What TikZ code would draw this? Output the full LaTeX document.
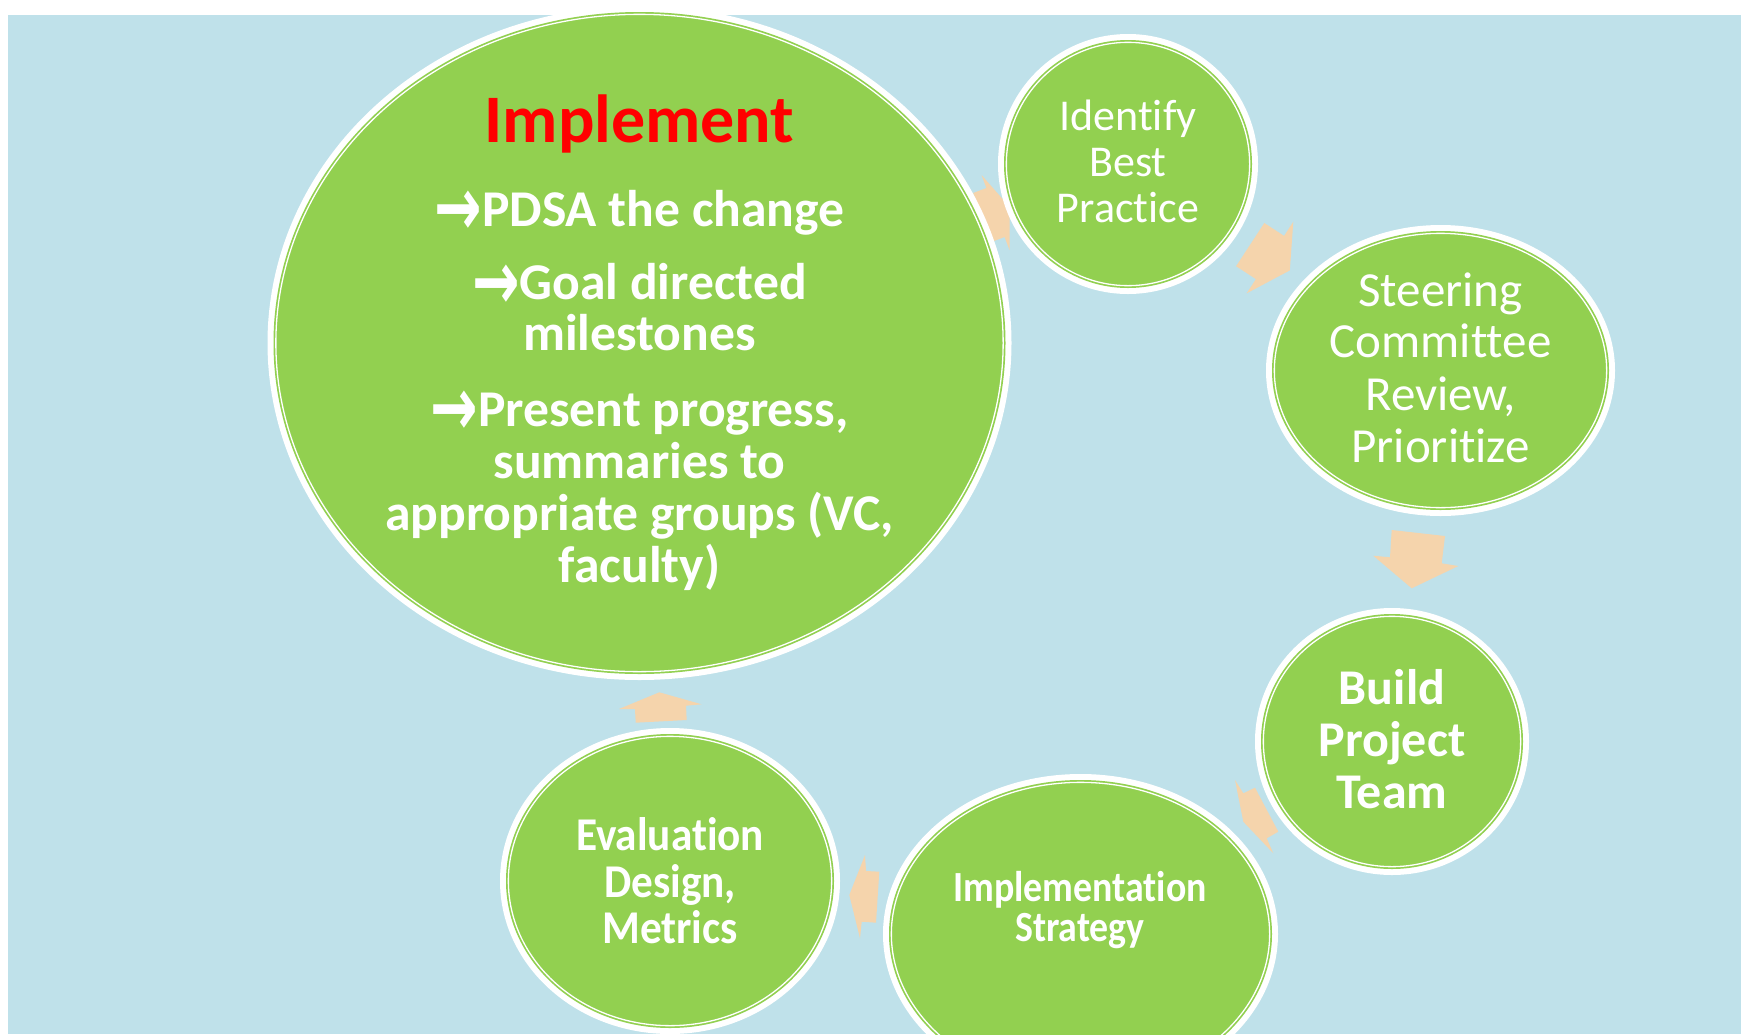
\documentclass[tikz,border=0pt]{standalone}
\usepackage{graphicx}
\usepackage{fontspec}
\setmainfont{Carlito}[RawFeature={-liga}]
\newfontfamily\arrowfont{DejaVu Sans}
\newfontfamily\condA{Carlito}[FakeStretch=0.88,RawFeature={-liga}]
\newfontfamily\condB{Carlito}[FakeStretch=0.92,RawFeature={-liga}]
\usetikzlibrary{shapes.geometric}
\definecolor{bgblue}{HTML}{BFE1EA}
\definecolor{cgreen}{HTML}{92D050}
\definecolor{arrowtan}{HTML}{F5D4AC}
\definecolor{titlered}{HTML}{FF0000}
\newcommand{\bularrow}{\raisebox{-4.6pt}{\scalebox{1.1}[1.6]{\arrowfont\bfseries →}}}
\tikzset{
  ring/.style={ellipse, inner sep=0pt, outer sep=0pt, fill=cgreen, draw=cgreen, line width=2.35pt,
     preaction={draw=white, line width=8.35pt},
     postaction={draw=white, line width=0.65pt}},
  blockarrow/.style={fill=arrowtan, draw=none},
  txt/.style={anchor=base, inner sep=0pt, outer sep=0pt, text=white},
  bullettxt/.style={txt, font=\bfseries\fontsize{25.8pt}{25.8pt}\selectfont},
  identtxt/.style={txt, font=\fontsize{22pt}{22pt}\selectfont},
  steertxt/.style={txt, font=\fontsize{24.5pt}{24.5pt}\selectfont},
  buildtxt/.style={txt, font=\bfseries\fontsize{25pt}{25pt}\selectfont},
  strattxt/.style={txt, font=\condA\bfseries\fontsize{21.5pt}{21.5pt}\selectfont},
  evaltxt/.style={txt, font=\condB\bfseries\fontsize{23.5pt}{23.5pt}\selectfont},
}
\begin{document}
\begin{tikzpicture}[x=0.5pt,y=-0.5pt]
\useasboundingbox (0,0) rectangle (1741,1034);
\fill[bgblue] (8,15) rectangle (1741,1034);

% block arrows (drawn beneath the circles)
\fill[blockarrow] (973.2,193) -- (986.4,188) -- (981.5,175) -- (1009.6,207) -- (1009.5,250) -- (1004.6,237) -- (991.4,242) -- cycle;
\fill[blockarrow] (1264.3,223.0) -- (1284.1,235.9) -- (1293.3,221.7) -- (1289.8,270.4) -- (1246.7,293.3) -- (1255.9,279.1) -- (1236.1,266.2) -- cycle;
\fill[blockarrow] (1391.7,530) -- (1445,536) -- (1441.7,563.3) -- (1458.3,566) -- (1411.7,588.3) -- (1373.3,555.7) -- (1390,557.3) -- cycle;
\fill[blockarrow] (1255,787.7) -- (1278.3,831.7) -- (1266.7,838.3) -- (1273.3,853.3) -- (1243.3,821.7) -- (1235,780) -- (1243.3,793.3) -- cycle;
\fill[blockarrow] (879.3,871.7) -- (876,922.7) -- (861.7,921.7) -- (860,938.3) -- (849.3,895) -- (865,855) -- (866,871) -- cycle;
\fill[blockarrow] (686.7,720) -- (635.7,722.7) -- (635,709) -- (619,709) -- (659.3,692.3) -- (701.7,704.3) -- (686,705.7) -- cycle;

% circles
\node[ring, minimum width=363.65pt, minimum height=328.65pt] (impl) at (639.5,343) {};
\node[ring, minimum width=121.65pt, minimum height=121.65pt] (ident) at (1128,164) {};
\node[ring, minimum width=166.15pt, minimum height=137.15pt] (steer) at (1440.5,370.5) {};
\node[ring, minimum width=128.65pt, minimum height=125.15pt] (build) at (1392,741.5) {};
\node[ring, minimum width=189.15pt, minimum height=151.65pt] (strat) at (1080.5,934) {};
\node[ring, minimum width=161.65pt, minimum height=144.65pt] (eval) at (670,881) {};

% texts
\node[txt, text=titlered, font=\bfseries\fontsize{34pt}{34pt}\selectfont] (title) at (639.5,142) {Implement};
\node[bullettxt] (b1) at (639.5,226.5) {\bularrow PDSA the change};
\node[bullettxt] (b2) at (639.5,299.8) {\bularrow Goal directed};
\node[bullettxt] (b2b) at (639.5,350.9) {milestones};
\node[bullettxt] (b3) at (639.5,426.4) {\bularrow Present progress,};
\node[bullettxt] (b3b) at (639.5,478.5) {summaries to};
\node[bullettxt] (b3c) at (639.5,530.7) {appropriate groups (VC,};
\node[bullettxt] (b3d) at (639.5,582.9) {faculty)};

\node[identtxt] (i1) at (1128,130) {Identify};
\node[identtxt] (i2) at (1128,176.5) {Best};
\node[identtxt] (i3) at (1128,222.5) {Practice};

\node[steertxt] (s1) at (1440.5,306) {Steering};
\node[steertxt] (s2) at (1440.5,357.5) {Committee};
\node[steertxt] (s3) at (1440.5,410.5) {Review,};
\node[steertxt] (s4) at (1440.5,462.5) {Prioritize};

\node[buildtxt] (p1) at (1392,704) {Build};
\node[buildtxt] (p2) at (1392,756) {Project};
\node[buildtxt] (p3) at (1392,808) {Team};

\node[strattxt] (st1) at (1080,901.6) {Implementation};
\node[strattxt] (st2) at (1080,941.5) {Strategy};

\node[evaltxt] (e1) at (670,850.5) {Evaluation};
\node[evaltxt] (e2) at (670,897) {Design,};
\node[evaltxt] (e3) at (670,943.8) {Metrics};
\end{tikzpicture}
\end{document}
